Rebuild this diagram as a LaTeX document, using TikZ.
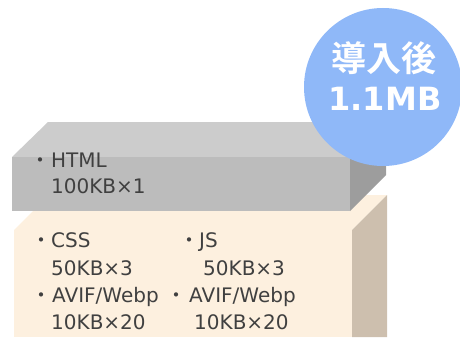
\documentclass[tikz,border=0pt]{standalone}
\usepackage{fontspec}
\setmainfont{DejaVu Sans}
\newfontfamily\cjk{Noto Sans CJK JP}
\newfontfamily\cjkb{Noto Sans CJK JP Bold}
\definecolor{graytop}{HTML}{CCCCCC}
\definecolor{grayfront}{HTML}{BCBCBC}
\definecolor{grayside}{HTML}{9D9D9D}
\definecolor{beigetop}{HTML}{FDF0DF}
\definecolor{beigefront}{HTML}{FDF0DF}
\definecolor{beigeside}{HTML}{CDBFAE}
\definecolor{bubble}{HTML}{8FB8F8}
\definecolor{txt}{HTML}{404040}
\tikzset{
  lbl/.style={anchor=base west, inner sep=0pt, text=txt, font=\fontsize{20}{26}\selectfont},
  bul/.style={anchor=base, inner sep=0pt, text=txt, font=\cjk\fontsize{20}{26}\selectfont},
}
\begin{document}
\begin{tikzpicture}[x=1pt,y=-1pt]
\useasboundingbox (0,0) rectangle (460,337);
% beige box
\fill[beigetop] (14,230) -- (49,195) -- (387,195) -- (352,230) -- cycle;
\fill[beigefront] (14,230) rectangle (352,337);
\fill[beigeside] (352,230) -- (387,195) -- (387,337) -- (352,337) -- cycle;
% gray box
\fill[graytop] (12,157) -- (48,122) -- (386,122) -- (350,157) -- cycle;
\fill[grayfront] (12,157) rectangle (350,211);
\fill[grayside] (350,157) -- (386,122) -- (386,175) -- (350,211) -- cycle;
% bubble
\fill[bubble] (383,87) circle[radius=79];
\node[inner sep=0pt, text=white, font=\cjkb\fontsize{35}{40}\selectfont] (t1) at (384,58) {導入後};
\node[anchor=base, inner sep=0pt, text=white, font=\bfseries\fontsize{32}{36}\selectfont] (t2) at (385,110) {1.1MB};
% texts
\node[bul] (b1) at (40,167) {・};
\node[lbl] (h1) at (51,167) {HTML};
\node[lbl] (h2) at (51,193) {100KB×1};
\node[bul] (b2) at (41,247) {・};
\node[lbl] (c1) at (51,247) {CSS};
\node[lbl] (c2) at (51,275) {50KB×3};
\node[bul] (b3) at (189,247) {・};
\node[lbl] (j1) at (199,247) {JS};
\node[lbl] (j2) at (203,275) {50KB×3};
\node[bul] (b4) at (41,302) {・};
\node[lbl] (a1) at (52,302) {AVIF/Webp};
\node[lbl] (a2) at (51,329) {10KB×20};
\node[bul] (b5) at (176,302) {・};
\node[lbl] (a3) at (189,302) {AVIF/Webp};
\node[lbl] (a4) at (194,329) {10KB×20};
\end{tikzpicture}
\end{document}
